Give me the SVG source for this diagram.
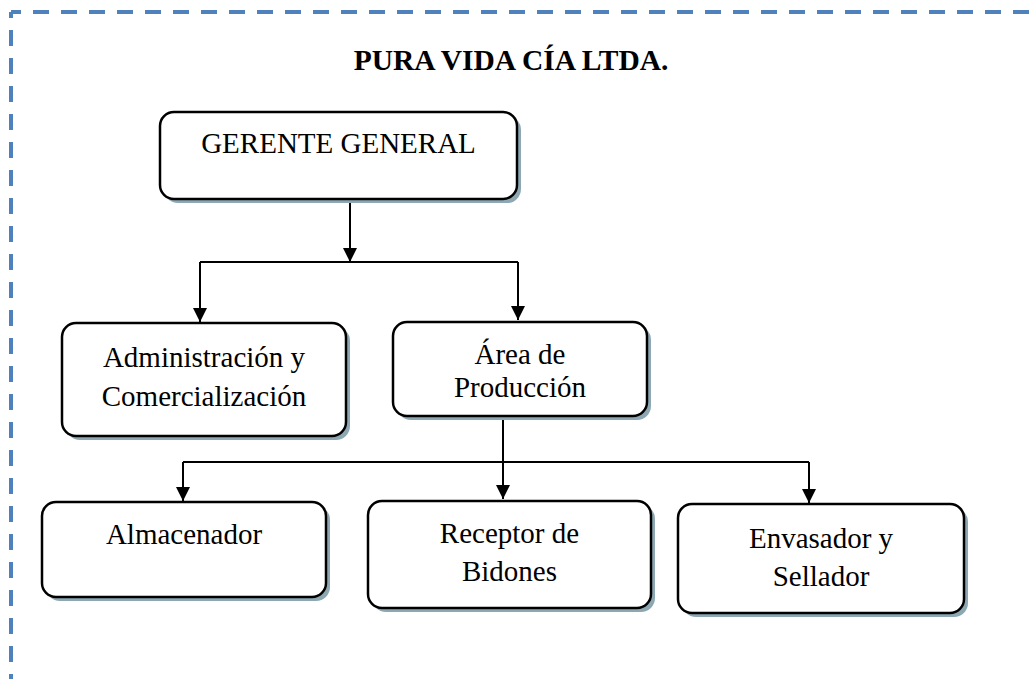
<svg xmlns="http://www.w3.org/2000/svg" width="1033" height="679" viewBox="0 0 1033 679">
<style>
.box{fill:#fff;stroke:#000;stroke-width:2.5}
.shadow{fill:#8DA8B3}
.t{font-family:"Liberation Serif","Times New Roman",serif;font-size:29px;fill:#000;text-anchor:middle}
.title{font-family:"Liberation Serif","Times New Roman",serif;font-size:29.5px;font-weight:bold;fill:#000;text-anchor:middle}
.c{fill:none;stroke:#000;stroke-width:2}
.border{fill:none;stroke:#4F81BD;stroke-width:4;stroke-dasharray:16 12}
</style>
<defs>
<marker id="arr" markerUnits="userSpaceOnUse" markerWidth="14" markerHeight="14" viewBox="0 0 14 14" refX="14" refY="7" orient="auto">
<path d="M0,0 L14,7 L0,14 Z" fill="#000"/>
</marker>
</defs>
<rect width="1033" height="679" fill="#fff"/>
<path class="border" d="M11,12 H1045" stroke-dashoffset="6"/>
<path class="border" d="M11,12 V700" stroke-dashoffset="10"/>
<text class="title" x="511" y="70">PURA VIDA CÍA LTDA.</text>
<g id="connectors">
<path class="c" d="M350,199 V262" marker-end="url(#arr)"/>
<path class="c" d="M200,262 H518"/>
<path class="c" d="M200,262 V322" marker-end="url(#arr)"/>
<path class="c" d="M518,262 V320" marker-end="url(#arr)"/>
<path class="c" d="M503,416 V499" marker-end="url(#arr)"/>
<path class="c" d="M183,462 H809"/>
<path class="c" d="M183,462 V501" marker-end="url(#arr)"/>
<path class="c" d="M809,462 V503" marker-end="url(#arr)"/>
</g>
<g id="gerente">
<rect class="shadow" x="164" y="116" width="357" height="87" rx="14"/>
<rect class="box" x="160" y="112" width="357" height="87" rx="14"/>
<text class="t" x="338.5" y="153">GERENTE GENERAL</text>
</g>
<g id="administracion">
<rect class="shadow" x="66" y="327" width="284" height="113" rx="14"/>
<rect class="box" x="62" y="323" width="284" height="113" rx="14"/>
<text class="t" x="204" y="367">Administración y</text>
<text class="t" x="204" y="406">Comercialización</text>
</g>
<g id="area-produccion">
<rect class="shadow" x="397" y="326" width="254" height="94" rx="14"/>
<rect class="box" x="393" y="322" width="254" height="94" rx="14"/>
<text class="t" x="520" y="364">Área de</text>
<text class="t" x="520" y="397">Producción</text>
</g>
<g id="almacenador">
<rect class="shadow" x="46" y="506" width="284" height="95" rx="14"/>
<rect class="box" x="42" y="502" width="284" height="95" rx="14"/>
<text class="t" x="184" y="544">Almacenador</text>
</g>
<g id="receptor">
<rect class="shadow" x="372" y="505" width="283" height="107" rx="14"/>
<rect class="box" x="368" y="501" width="283" height="107" rx="14"/>
<text class="t" x="509.5" y="543">Receptor de</text>
<text class="t" x="509.5" y="581">Bidones</text>
</g>
<g id="envasador">
<rect class="shadow" x="682" y="508" width="286" height="109" rx="14"/>
<rect class="box" x="678" y="504" width="286" height="109" rx="14"/>
<text class="t" x="821" y="548">Envasador y</text>
<text class="t" x="821" y="586">Sellador</text>
</g>
</svg>
